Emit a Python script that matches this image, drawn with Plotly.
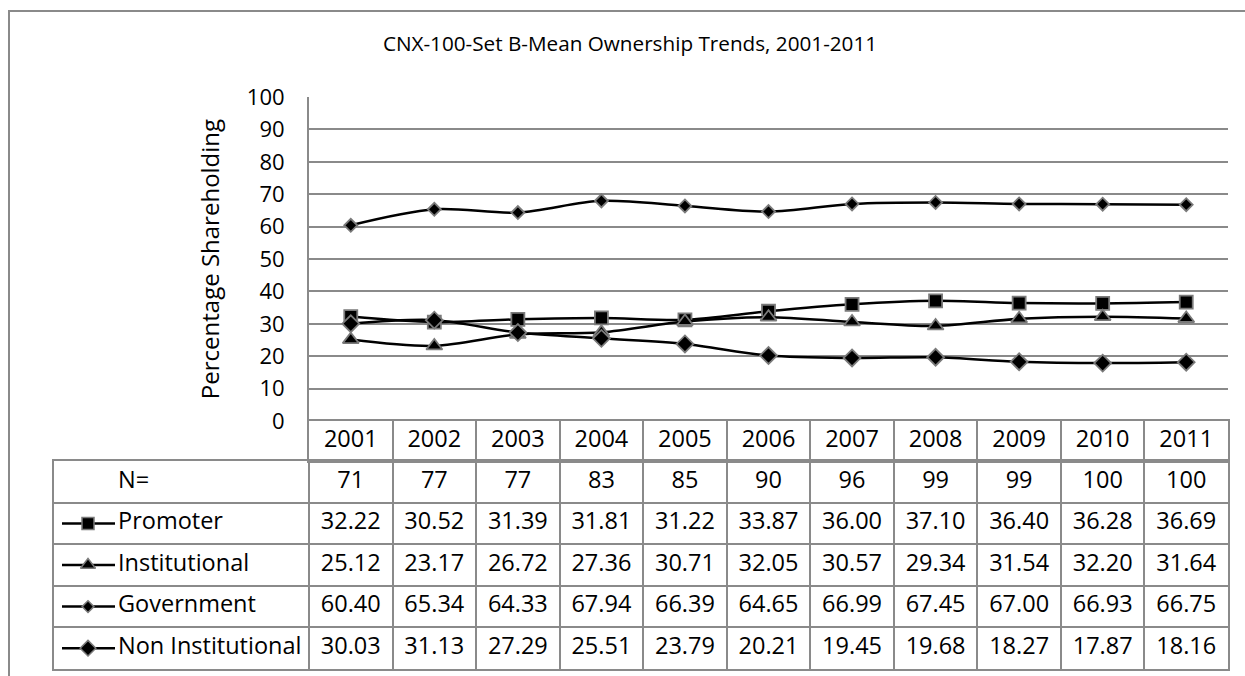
import plotly.graph_objects as go

# ---------------- data ----------------
years = ["2001", "2002", "2003", "2004", "2005", "2006", "2007", "2008", "2009", "2010", "2011"]
n_firms = [71, 77, 77, 83, 85, 90, 96, 99, 99, 100, 100]
series_names = ["Promoter", "Institutional", "Government", "Non Institutional"]
promoter = [32.22, 30.52, 31.39, 31.81, 31.22, 33.87, 36.00, 37.10, 36.40, 36.28, 36.69]
institutional = [25.12, 23.17, 26.72, 27.36, 30.71, 32.05, 30.57, 29.34, 31.54, 32.20, 31.64]
government = [60.40, 65.34, 64.33, 67.94, 66.39, 64.65, 66.99, 67.45, 67.00, 66.93, 66.75]
non_institutional = [30.03, 31.13, 27.29, 25.51, 23.79, 20.21, 19.45, 19.68, 18.27, 17.87, 18.16]
title_text = "CNX-100-Set B-Mean Ownership Trends, 2001-2011"
y_title = "Percentage Shareholding"

# ---------------- styling ----------------
W, H = 1245, 676
FONT = "Open Sans"
GRID = "#8a8a8a"
OUTLINE = "#7a7a7a"
FS_TABLE = 23.5
FS_TICK = 22
FS_TITLE = 20.7
FS_YTITLE = 24

def fx(px):
    return px / W

def fy(px):
    return 1 - px / H

values = [promoter, institutional, government, non_institutional]
markers = [
    dict(symbol="square", size=13),
    dict(symbol="triangle-up", size=14),
    dict(symbol="diamond", size=10),
    dict(symbol="diamond", size=13),
]

idx = list(range(len(years)))
plot_l, plot_r = 309, 1228
table_l = 54
col_w = (plot_r - plot_l) / len(years)
x2_left = -0.5 - (plot_l - table_l) / col_w

def px2x(px):
    return -0.5 + (px - plot_l) / col_w

fig = go.Figure()

# main lines
for name, vals, mk in zip(series_names, values, markers):
    fig.add_trace(go.Scatter(
        x=idx, y=vals, mode="lines+markers", name=name,
        line=dict(color="black", width=2.5, shape="spline", smoothing=0.9),
        marker=dict(color="black", line=dict(color=OUTLINE, width=1.8), **mk),
        xaxis="x", yaxis="y", showlegend=False, cliponaxis=False,
    ))

# header row (years)
fig.add_trace(go.Scatter(
    x=idx, y=[0] * len(years), mode="text", text=years,
    textfont=dict(size=FS_TABLE, color="black", family=FONT),
    xaxis="x3", yaxis="y3", showlegend=False, hoverinfo="skip",
))

# body rows
rows_text = [[str(v) for v in n_firms]] + [[f"{v:.2f}" for v in vals] for vals in values]
for r, texts in enumerate(rows_text):
    fig.add_trace(go.Scatter(
        x=idx, y=[r] * len(years), mode="text", text=texts,
        textfont=dict(size=FS_TABLE, color="black", family=FONT),
        xaxis="x2", yaxis="y2", showlegend=False, hoverinfo="skip",
    ))

# row labels
row_labels = ["N="] + series_names
fig.add_trace(go.Scatter(
    x=[px2x(118)] * len(row_labels), y=list(range(len(row_labels))),
    mode="text", text=row_labels, textposition="middle right",
    textfont=dict(size=FS_TABLE, color="black", family=FONT),
    xaxis="x2", yaxis="y2", showlegend=False, hoverinfo="skip",
))

# legend keys in the table
for r, mk in enumerate(markers, start=1):
    fig.add_trace(go.Scatter(
        x=[px2x(62), px2x(115)], y=[r, r], mode="lines",
        line=dict(color="black", width=2.5),
        xaxis="x2", yaxis="y2", showlegend=False, hoverinfo="skip",
    ))
    small = dict(mk)
    small["size"] = mk["size"] - 1
    fig.add_trace(go.Scatter(
        x=[px2x(88)], y=[r], mode="markers",
        marker=dict(color="black", line=dict(color=OUTLINE, width=1.5), **small),
        xaxis="x2", yaxis="y2", showlegend=False, hoverinfo="skip",
    ))

boundaries = [k - 0.5 for k in range(len(years) + 1)]
nrows = len(row_labels)

fig.update_layout(
    template="none",
    width=W, height=H,
    margin=dict(l=0, r=0, t=0, b=0, pad=0, autoexpand=False),
    paper_bgcolor="white", plot_bgcolor="white",
    font=dict(family=FONT, color="black", size=FS_TABLE),
    title=dict(text=title_text, x=fx(630), xanchor="center", y=fy(44), yanchor="middle",
               xref="container", yref="container",
               font=dict(size=FS_TITLE, family=FONT, color="black")),
    xaxis=dict(domain=[fx(plot_l), fx(plot_r)], range=[-0.5, len(years) - 0.5],
               showgrid=False, showticklabels=False, zeroline=False, showline=False,
               ticks="", anchor="y", automargin=False),
    yaxis=dict(domain=[fy(421), fy(97)], range=[0, 100], dtick=10, tick0=0,
               showgrid=True, gridcolor=GRID, gridwidth=1.5, zeroline=False,
               showline=True, linecolor=GRID, linewidth=2,
               ticks="", ticklabelstandoff=18, tickfont=dict(size=FS_TICK, family=FONT, color="black"),
               title=dict(text=y_title, font=dict(size=FS_YTITLE, family=FONT, color="black"), standoff=20),
               anchor="x", automargin=False),
    xaxis3=dict(domain=[fx(plot_l), fx(plot_r)], range=[-0.5, len(years) - 0.5],
                tickmode="array", tickvals=boundaries, showticklabels=False, ticks="",
                showgrid=True, gridcolor=GRID, gridwidth=2, zeroline=False,
                showline=True, mirror=True, linecolor=GRID, linewidth=2, anchor="y3",
                automargin=False),
    yaxis3=dict(domain=[fy(461), fy(421)], range=[-0.5, 0.5], showgrid=False,
                showticklabels=False, ticks="", zeroline=False,
                showline=True, mirror=True, linecolor=GRID, linewidth=2, anchor="x3",
                automargin=False),
    xaxis2=dict(domain=[fx(table_l), fx(plot_r)], range=[x2_left, len(years) - 0.5],
                tickmode="array", tickvals=boundaries, showticklabels=False, ticks="",
                showgrid=True, gridcolor=GRID, gridwidth=2, zeroline=False,
                showline=True, mirror=True, linecolor=GRID, linewidth=2, anchor="y2",
                automargin=False),
    yaxis2=dict(domain=[fy(669), fy(461)], range=[nrows - 0.5, -0.5],
                tickmode="array", tickvals=[k + 0.5 for k in range(nrows - 1)],
                showticklabels=False, ticks="",
                showgrid=True, gridcolor=GRID, gridwidth=2, zeroline=False,
                showline=True, mirror=True, linecolor=GRID, linewidth=2, anchor="x2",
                automargin=False),
    shapes=[dict(type="rect", xref="paper", yref="paper",
                 x0=fx(9), x1=fx(1262), y0=fy(11), y1=fy(700),
                 line=dict(color=GRID, width=2), layer="below")],
)

fig.write_html("out.html", config={"displayModeBar": False},
               post_script="document.body.style.margin='0';")
